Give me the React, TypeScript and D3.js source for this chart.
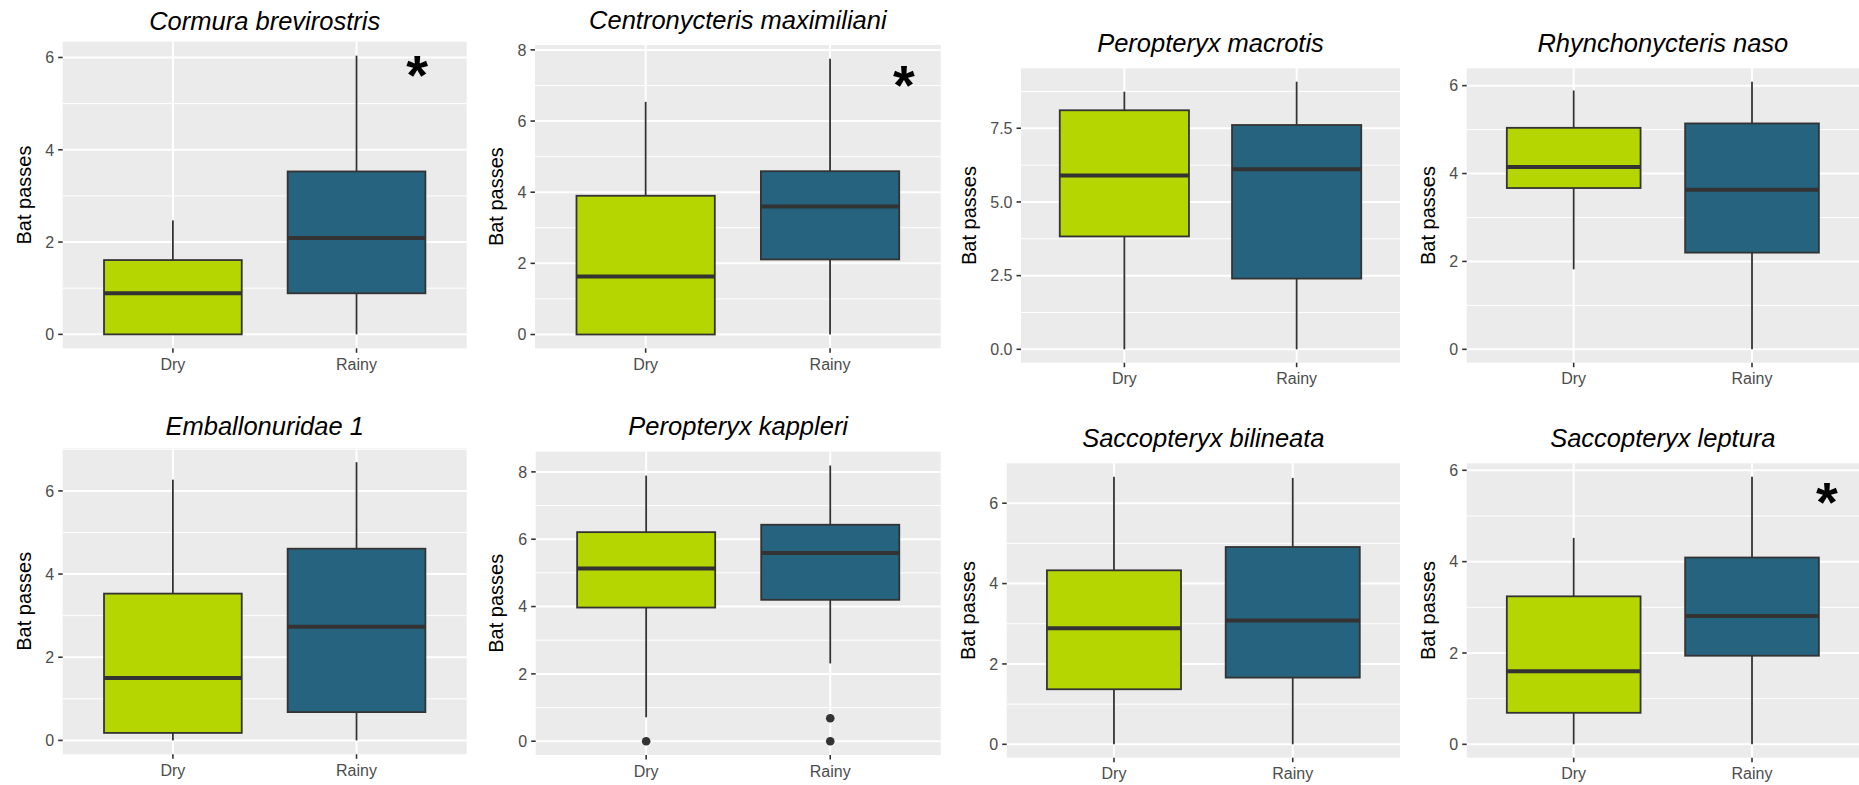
import React from "react";
import * as d3 from "d3";

// Seasons compared in every panel, and their fills
const seasons = ["Dry", "Rainy"];
const seasonFill = ["#B5D600", "#26637F"];

// Species, one panel each (row by row)
const speciesTitles = [
  "Cormura brevirostris",
  "Centronycteris maximiliani",
  "Peropteryx macrotis",
  "Rhynchonycteris naso",
  "Emballonuridae 1",
  "Peropteryx kappleri",
  "Saccopteryx bilineata",
  "Saccopteryx leptura",
];

// Box statistics: [lower whisker, Q1, median, Q3, upper whisker]
const dryStats = [
  [0, 0, 0.89, 1.61, 2.47],
  [0, 0, 1.63, 3.9, 6.54],
  [0, 3.83, 5.9, 8.11, 8.74],
  [1.82, 3.67, 4.15, 5.04, 5.89],
  [0, 0.18, 1.5, 3.53, 6.27],
  [0.71, 3.97, 5.13, 6.21, 7.89],
  [0, 1.37, 2.89, 4.33, 6.66],
  [0, 0.69, 1.6, 3.24, 4.52],
];
const rainyStats = [
  [0, 0.89, 2.09, 3.53, 6.04],
  [0, 2.11, 3.6, 4.59, 7.75],
  [0, 2.4, 6.11, 7.61, 9.08],
  [0, 2.2, 3.63, 5.14, 6.09],
  [0, 0.68, 2.73, 4.61, 6.69],
  [2.31, 4.2, 5.59, 6.43, 8.19],
  [0, 1.66, 3.08, 4.91, 6.63],
  [0, 1.94, 2.81, 4.09, 5.86],
];

// Outlying observations beyond the whiskers
const dryOutliers = [[], [], [], [], [], [0], [], []];
const rainyOutliers = [[], [], [], [], [], [0, 0.68], [], []];

// Y-axis breaks and label decimals per panel
const yTicks = [
  [0, 2, 4, 6],
  [0, 2, 4, 6, 8],
  [0, 2.5, 5, 7.5],
  [0, 2, 4, 6],
  [0, 2, 4, 6],
  [0, 2, 4, 6, 8],
  [0, 2, 4, 6],
  [0, 2, 4, 6],
];
const tickDecimals = [0, 0, 1, 0, 0, 0, 0, 0];

// Significance marks: [x position on the season axis (1 = Dry, 2 = Rainy), y value]
const significanceMarks: (number[] | null)[] = [
  [2.33, 5.9],
  [2.4, 7.37],
  null,
  null,
  null,
  null,
  null,
  [2.42, 5.58],
];

const yAxisTitle = "Bat passes";

// Panel frames in page pixels: [left, top, right, bottom]
const panelFrames = [
  [62.7, 41.7, 466.7, 348.3],
  [535, 45, 940.7, 348.3],
  [1021, 68.3, 1400, 362.7],
  [1466.7, 68.3, 1859, 362.7],
  [62.7, 448.3, 466.7, 754.3],
  [535.7, 451.7, 940.7, 755],
  [1006.7, 463.3, 1400, 757.7],
  [1466.7, 463.3, 1859, 757.7],
];
const titleBaselines = [29.5, 28.5, 52.3, 52.3, 435, 435, 446.7, 446.7];
const axisTitleX = [23.3, 495.8, 968.3, 1427.5, 23.3, 495.8, 967.5, 1427.5];

const FONT = "'Liberation Sans', Arial, Helvetica, sans-serif";
const PANEL_BG = "#EBEBEB";
const INK = "#333333";
const TICK_TEXT = "#4D4D4D";

function Panel({ idx }: { idx: number }) {
  const [left, top, right, bottom] = panelFrames[idx];
  const stats = [dryStats[idx], rainyStats[idx]];
  const outliers = [dryOutliers[idx], rainyOutliers[idx]];

  const allValues = [...stats[0], ...stats[1], ...outliers[0], ...outliers[1]];
  const lo = d3.min(allValues) as number;
  const hi = d3.max(allValues) as number;
  const pad = (hi - lo) * 0.05;

  const x = d3.scalePoint<string>().domain(seasons).range([left, right]).padding(0.6);
  const y = d3.scaleLinear().domain([lo - pad, hi + pad]).range([bottom, top]);
  const boxW = x.step() * 0.75;

  const ticks = yTicks[idx];
  const stepT = ticks[1] - ticks[0];
  const [d0, d1] = y.domain();
  const minor: number[] = [];
  for (let v = ticks[0] - stepT / 2; v <= d1; v += stepT) {
    if (v >= d0) minor.push(v);
  }
  const fmt = d3.format(`.${tickDecimals[idx]}f`);
  const cx = (left + right) / 2;
  const cy = (top + bottom) / 2;
  const mark = significanceMarks[idx];
  const markX = d3.scaleLinear().domain([1, 2]).range([x(seasons[0])!, x(seasons[1])!]);

  return (
    <g>
      <text
        x={cx}
        y={titleBaselines[idx]}
        textAnchor="middle"
        fontFamily={FONT}
        fontStyle="italic"
        fontSize={25.5}
        fill="#000"
      >
        {speciesTitles[idx]}
      </text>

      <rect x={left} y={top} width={right - left} height={bottom - top} fill={PANEL_BG} />

      {minor.map((v) => (
        <line key={`mn${v}`} x1={left} x2={right} y1={y(v)} y2={y(v)} stroke="#fff" strokeWidth={1} />
      ))}
      {ticks.map((v) => (
        <line key={`mj${v}`} x1={left} x2={right} y1={y(v)} y2={y(v)} stroke="#fff" strokeWidth={2} />
      ))}
      {seasons.map((s) => (
        <line key={`vx${s}`} x1={x(s)} x2={x(s)} y1={top} y2={bottom} stroke="#fff" strokeWidth={2} />
      ))}

      {seasons.map((s, i) => {
        const [wl, q1, med, q3, wh] = stats[i];
        const xc = x(s)!;
        return (
          <g key={`box${s}`}>
            <line x1={xc} x2={xc} y1={y(q3)} y2={y(wh)} stroke={INK} strokeWidth={1.8} />
            <line x1={xc} x2={xc} y1={y(q1)} y2={y(wl)} stroke={INK} strokeWidth={1.8} />
            <rect
              x={xc - boxW / 2}
              y={y(q3)}
              width={boxW}
              height={Math.max(y(q1) - y(q3), 0)}
              fill={seasonFill[i]}
              stroke={INK}
              strokeWidth={1.8}
            />
            <line
              x1={xc - boxW / 2}
              x2={xc + boxW / 2}
              y1={y(med)}
              y2={y(med)}
              stroke={INK}
              strokeWidth={4}
            />
            {outliers[i].map((v, k) => (
              <circle key={`o${k}`} cx={xc} cy={y(v)} r={4.3} fill={INK} />
            ))}
          </g>
        );
      })}

      {mark && (
        <text
          x={markX(mark[0])}
          y={y(mark[1])}
          dy="0.57em"
          textAnchor="middle"
          fontFamily={FONT}
          fontWeight="bold"
          fontSize={56}
          fill="#000"
        >
          *
        </text>
      )}

      {ticks.map((v) => (
        <g key={`yt${v}`}>
          <line x1={left - 4.5} x2={left} y1={y(v)} y2={y(v)} stroke={INK} strokeWidth={1.6} />
          <text
            x={left - 8.5}
            y={y(v)}
            dy="0.36em"
            textAnchor="end"
            fontFamily={FONT}
            fontSize={16}
            fill={TICK_TEXT}
          >
            {fmt(v)}
          </text>
        </g>
      ))}
      {seasons.map((s) => (
        <g key={`xt${s}`}>
          <line x1={x(s)} x2={x(s)} y1={bottom} y2={bottom + 4.5} stroke={INK} strokeWidth={1.6} />
          <text
            x={x(s)}
            y={bottom + 21.5}
            textAnchor="middle"
            fontFamily={FONT}
            fontSize={16}
            fill={TICK_TEXT}
          >
            {s}
          </text>
        </g>
      ))}

      <text
        transform={`translate(${axisTitleX[idx]},${cy}) rotate(-90)`}
        dy="0.36em"
        textAnchor="middle"
        fontFamily={FONT}
        fontSize={20}
        fill="#000"
      >
        {yAxisTitle}
      </text>
    </g>
  );
}

export default function App() {
  return (
    <svg
      width={1859}
      height={785}
      viewBox="0 0 1859 785"
      style={{ position: "absolute", left: 0, top: 0, background: "#fff" }}
    >
      <rect x={0} y={0} width={1859} height={785} fill="#fff" />
      {speciesTitles.map((_, i) => (
        <Panel key={i} idx={i} />
      ))}
    </svg>
  );
}
